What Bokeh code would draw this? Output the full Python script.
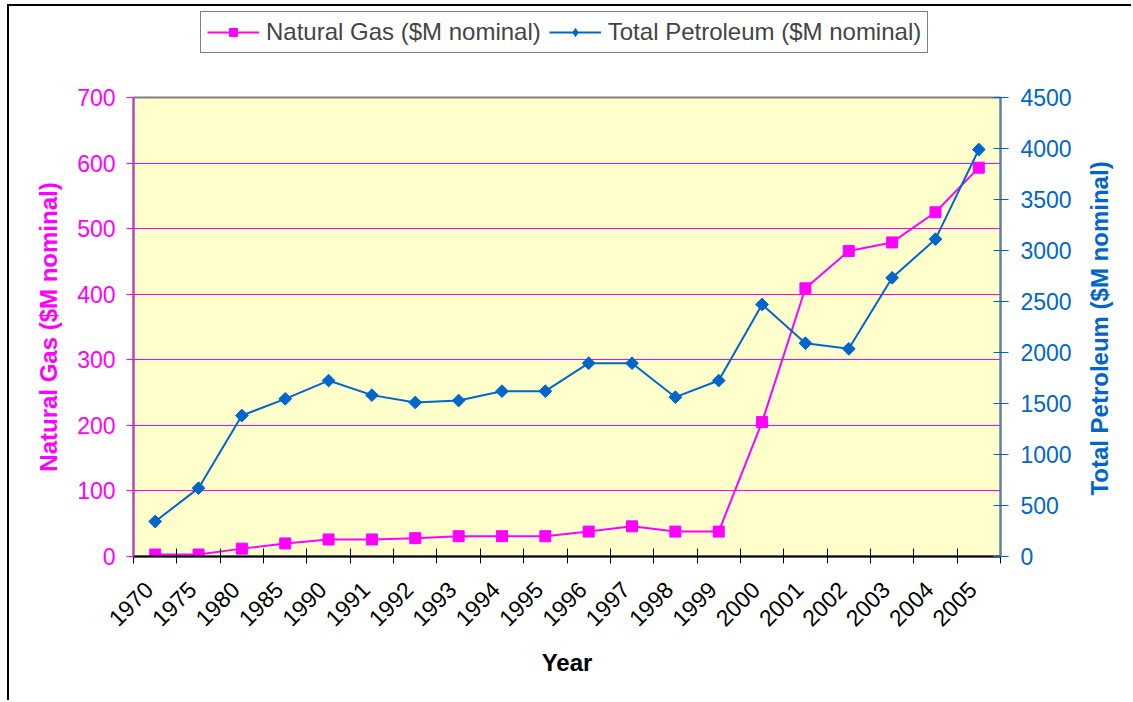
from math import pi
from bokeh.plotting import figure
from bokeh.layouts import column, row
from bokeh.models import Range1d, LinearAxis, FixedTicker, Legend, LegendItem, Label
from bokeh.embed import file_html
from bokeh.resources import INLINE

years = ["1970", "1975", "1980", "1985", "1990", "1991", "1992", "1993", "1994", "1995",
         "1996", "1997", "1998", "1999", "2000", "2001", "2002", "2003", "2004", "2005"]
natural_gas = [3, 3, 12, 20, 26, 26, 28, 31, 31, 31, 38, 46, 38, 38, 205, 409, 466, 479, 525, 593]
petroleum = [343, 670, 1382, 1546, 1725, 1582, 1510, 1529, 1621, 1621,
             1895, 1895, 1562, 1725, 2471, 2091, 2036, 2732, 3111, 3990]
gas_ticks = [0, 100, 200, 300, 400, 500, 600, 700]
pet_ticks = [0, 500, 1000, 1500, 2000, 2500, 3000, 3500, 4000, 4500]

MAGENTA = "#FF00FF"
BLUE = "#0066CC"
FONT = "Liberation Sans"

n = len(years)
xc = [i + 0.5 for i in range(n)]
label_pos = [i + 0.35 for i in range(n)]   # rotated labels sit slightly left of the point
bounds = list(range(n + 1))

# ---------------- main chart ----------------
p = figure(width=1071, height=615, x_range=Range1d(0, n), y_range=Range1d(0, 700),
           output_backend="svg", toolbar_location=None,
           min_border_left=124, min_border_right=80, min_border_top=12, min_border_bottom=144,
           background_fill_color="#FFFFCC", border_fill_color="white",
           outline_line_color="#808080", outline_line_width=2)
p.extra_y_ranges = {"pet": Range1d(0, 4500)}

xa = p.xaxis[0]
xa.ticker = FixedTicker(ticks=label_pos, minor_ticks=bounds)
xa.major_label_overrides = {x: y for x, y in zip(label_pos, years)}
xa.major_tick_line_color = None
xa.minor_tick_in = 8
xa.minor_tick_out = 7
xa.minor_tick_line_color = "black"
xa.axis_line_color = "black"
xa.axis_line_width = 2
xa.major_label_orientation = pi / 4
xa.major_label_standoff = 22
xa.major_label_text_font = FONT
xa.major_label_text_font_size = "23px"
xa.major_label_text_color = "black"
xa.axis_label = "Year"
xa.axis_label_text_font = FONT
xa.axis_label_text_font_size = "24px"
xa.axis_label_text_font_style = "bold"
xa.axis_label_text_color = "black"
xa.axis_label_standoff = 12

ya = p.yaxis[0]
ya.ticker = FixedTicker(ticks=gas_ticks)
ya.major_tick_out = 7
ya.major_tick_in = 0
ya.major_tick_line_color = MAGENTA
ya.minor_tick_line_color = None
ya.axis_line_color = "#C040C0"
ya.axis_line_width = 2
ya.major_label_standoff = 11
ya.major_label_text_font = FONT
ya.major_label_text_font_size = "23px"
ya.major_label_text_color = MAGENTA
ya.axis_label = "Natural Gas ($M nominal)"
ya.axis_label_text_font = FONT
ya.axis_label_text_font_size = "24px"
ya.axis_label_text_font_style = "bold"
ya.axis_label_text_color = MAGENTA
ya.axis_label_standoff = 12

ra = LinearAxis(y_range_name="pet", ticker=FixedTicker(ticks=pet_ticks))
ra.major_tick_in = 7
ra.major_tick_out = 8
ra.major_tick_line_color = BLUE
ra.minor_tick_line_color = None
ra.axis_line_color = "#5A7FA8"
ra.axis_line_width = 2
ra.major_label_standoff = 12
ra.major_label_text_font = FONT
ra.major_label_text_font_size = "23px"
ra.major_label_text_color = BLUE
p.add_layout(ra, "right")

p.xgrid.grid_line_color = None
p.ygrid.ticker = FixedTicker(ticks=gas_ticks)
p.ygrid.grid_line_color = MAGENTA
p.ygrid.grid_line_width = 1

p.line(xc, natural_gas, line_color=MAGENTA, line_width=2)
p.scatter(xc, natural_gas, marker="square", size=11, fill_color=MAGENTA, line_color=MAGENTA)
p.line(xc, petroleum, line_color=BLUE, line_width=2, y_range_name="pet")
p.scatter(xc, petroleum, marker="square", angle=pi / 4, size=9, fill_color=BLUE,
          line_color=BLUE, y_range_name="pet")

# ---------------- legend strip (top) ----------------
# same series drawn again here only so the legend has styled glyphs;
# the data lie outside this strip's 0..1 ranges, so nothing shows but the legend.
top = figure(width=1122, height=79, x_range=Range1d(0, 1), y_range=Range1d(0, 1),
             output_backend="svg", toolbar_location=None,
             x_axis_location=None, y_axis_location=None, min_border=0,
             background_fill_color="white", border_fill_color="white",
             outline_line_color=None)
top.xgrid.grid_line_color = None
top.ygrid.grid_line_color = None
lg_g_line = top.line(xc, natural_gas, line_color=MAGENTA, line_width=2)
lg_g_mark = top.scatter(xc, natural_gas, marker="square", size=9, fill_color=MAGENTA,
                        line_color=MAGENTA)
lg_p_line = top.line(xc, petroleum, line_color=BLUE, line_width=2)
lg_p_mark = top.scatter(xc, petroleum, marker="diamond", size=12, fill_color=BLUE,
                        line_color=BLUE)
legend = Legend(items=[
    LegendItem(label="Natural Gas ($M nominal)", renderers=[lg_g_line, lg_g_mark]),
    LegendItem(label="Total Petroleum ($M nominal)", renderers=[lg_p_line, lg_p_mark]),
], orientation="horizontal", location=(191, 32))
legend.border_line_color = "black"
legend.border_line_width = 1
legend.background_fill_color = "white"
legend.background_fill_alpha = 1
legend.label_text_font = FONT
legend.label_text_font_size = "24px"
legend.glyph_width = 52
legend.glyph_height = 20
legend.label_standoff = 7
legend.spacing = 8
legend.padding = 6
legend.margin = 0
top.add_layout(legend, "center")

# ---------------- right title strip ----------------
side = figure(width=51, height=615, x_range=Range1d(0, 1), y_range=Range1d(0, 1),
              output_backend="svg", toolbar_location=None,
              x_axis_location=None, y_axis_location=None, min_border=0,
              background_fill_color="white", border_fill_color="white",
              outline_line_color=None)
side.xgrid.grid_line_color = None
side.ygrid.grid_line_color = None
side.add_layout(Label(x=19, y=228, x_units="screen", y_units="screen",
                      text="Total Petroleum ($M nominal)", angle=pi / 2,
                      text_align="center", text_baseline="middle",
                      text_font=FONT, text_font_size="24px", text_font_style="bold",
                      text_color=BLUE))

layout = column(top, row(p, side, spacing=0), spacing=0)
layout.styles = {"margin-left": "7px", "margin-top": "4px",
                 "border-left": "2px solid black", "border-top": "2px solid black"}

open("out.html", "w").write(file_html(layout, INLINE))
